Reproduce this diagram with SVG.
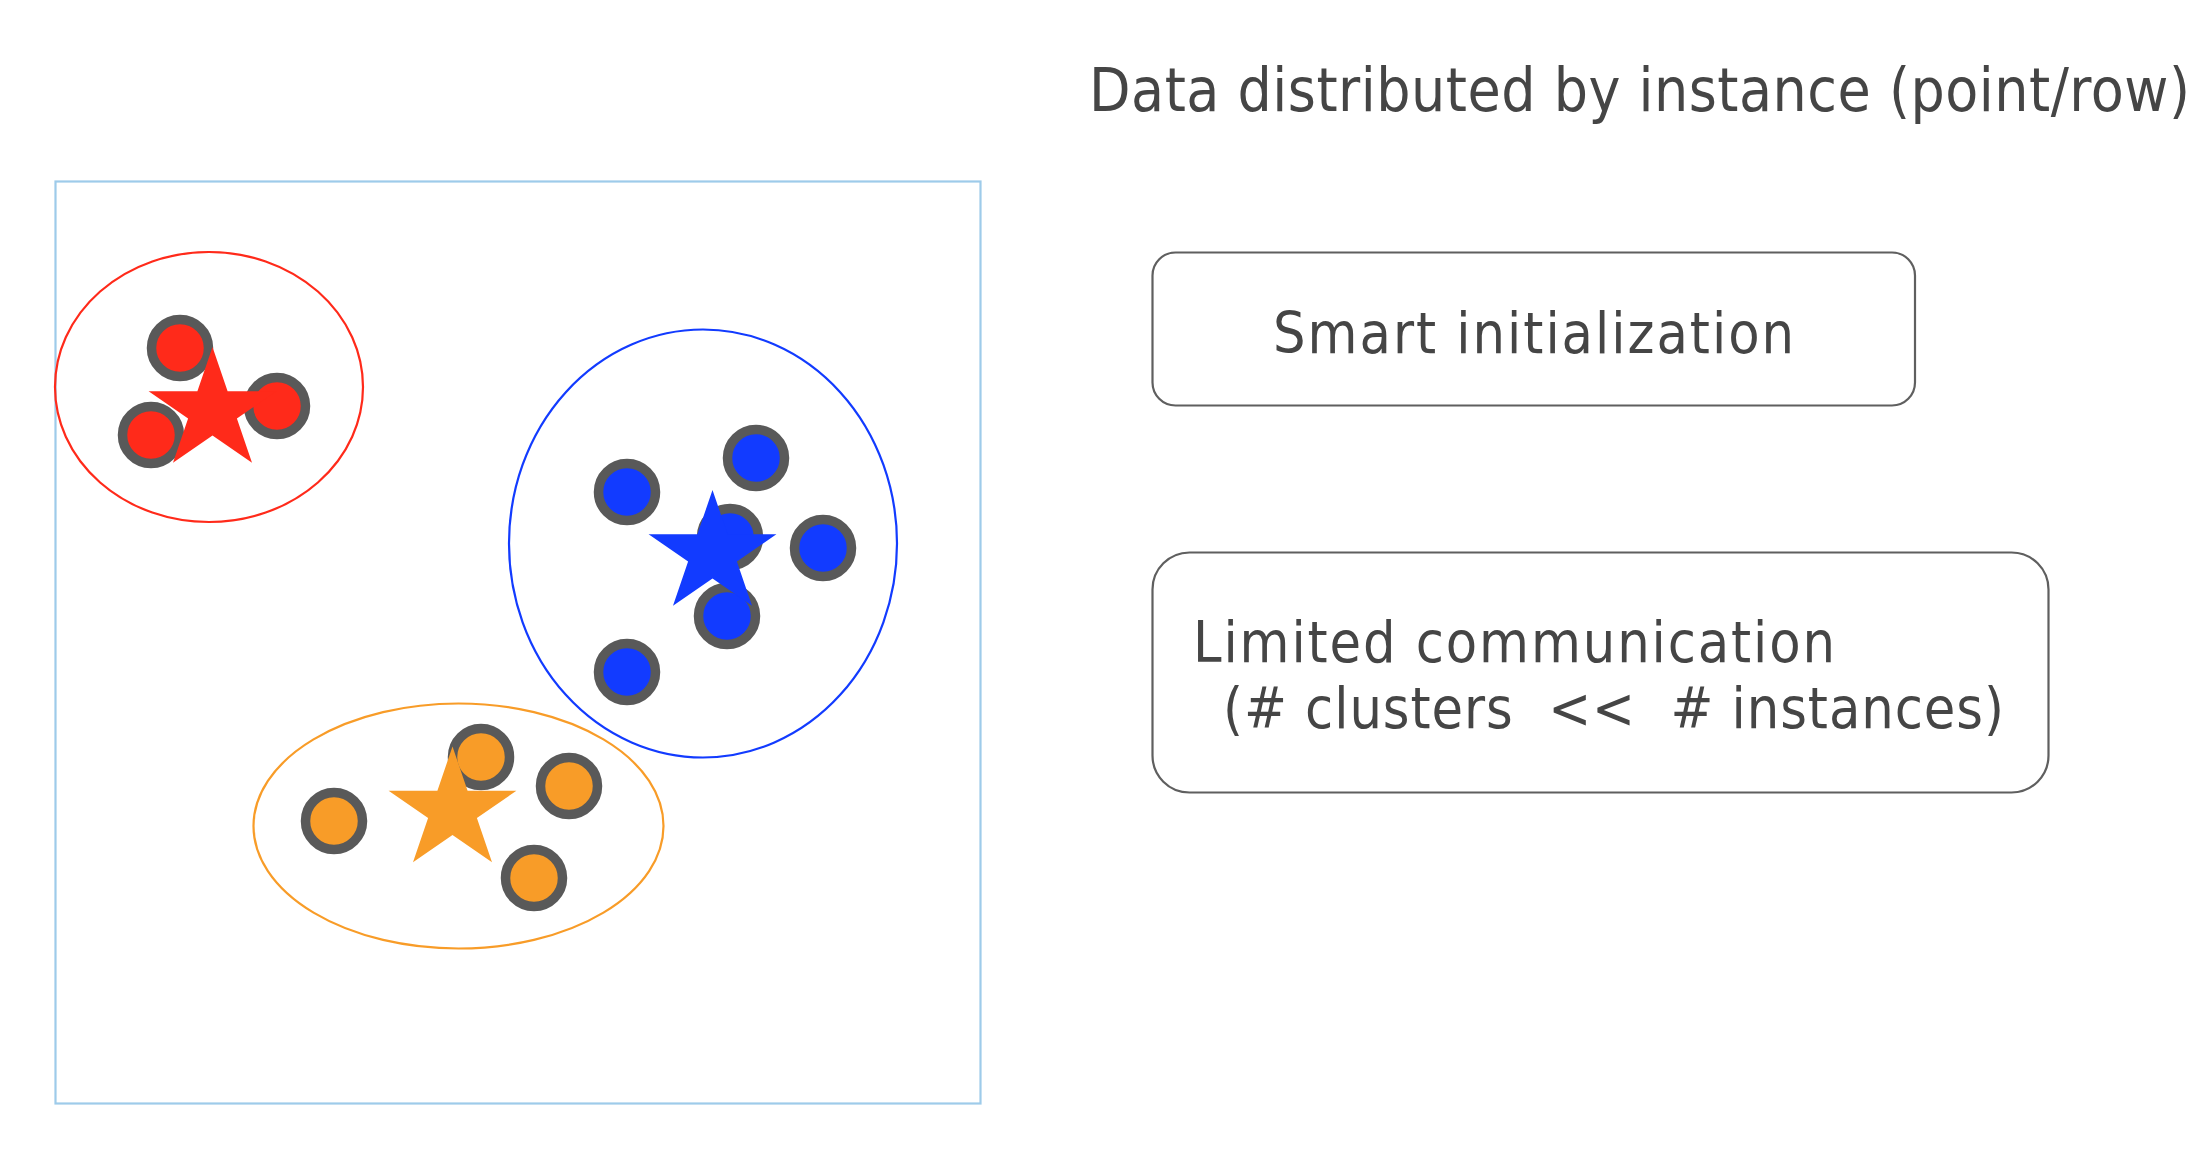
<svg xmlns="http://www.w3.org/2000/svg" width="2198" height="1162" viewBox="0 0 2198 1162">
<style>
.pt{stroke:#595959;stroke-width:9.5}
.red{fill:#ff2a1a}
.blue{fill:#123bff}
.orange{fill:#f89c28}
.ring{fill:none;stroke-width:2.2}
.lbl{font-family:"DejaVu Sans Condensed","DejaVu Sans","Liberation Sans",sans-serif;font-stretch:condensed;fill:#454545}
.card{fill:#fff;stroke:#5f5f5f;stroke-width:2.2}
</style>
<defs>
<path id="star" d="M0,-64 L15.1,-19.8 L63.9,-19.8 L24.4,7.6 L39.5,51.8 L0,24.5 L-39.5,51.8 L-24.4,7.6 L-63.9,-19.8 L-15.1,-19.8 Z"/>
</defs>
<rect width="2198" height="1162" fill="#fff"/>
<g id="data-frame">
<rect x="55.5" y="181.5" width="925" height="922" fill="none" stroke="#9ecbea" stroke-width="2.2"/>
</g>
<g id="cluster-red">
<ellipse class="ring" cx="209" cy="387" rx="154" ry="135" stroke="#ff2a1a"/>
<circle class="pt red" cx="180" cy="348" r="28.5"/>
<circle class="pt red" cx="277" cy="406" r="28.5"/>
<circle class="pt red" cx="151" cy="435" r="28.5"/>
<use href="#star" class="red" transform="translate(212.5,411)"/>
</g>
<g id="cluster-blue">
<ellipse class="ring" cx="703" cy="543.5" rx="194" ry="214" stroke="#123bff"/>
<circle class="pt blue" cx="627" cy="492" r="28.5"/>
<circle class="pt blue" cx="756" cy="458" r="28.5"/>
<circle class="pt blue" cx="730" cy="537" r="28.5"/>
<circle class="pt blue" cx="823" cy="548" r="28.5"/>
<circle class="pt blue" cx="727" cy="616" r="28.5"/>
<circle class="pt blue" cx="627" cy="672" r="28.5"/>
<use href="#star" class="blue" transform="translate(712.5,554)"/>
</g>
<g id="cluster-orange">
<ellipse class="ring" cx="458.5" cy="826" rx="205" ry="122.5" stroke="#f89c28"/>
<circle class="pt orange" cx="334" cy="821" r="28.5"/>
<circle class="pt orange" cx="481" cy="757" r="28.5"/>
<circle class="pt orange" cx="569" cy="786" r="28.5"/>
<circle class="pt orange" cx="534" cy="878" r="28.5"/>
<use href="#star" class="orange" transform="translate(452.5,810.5)"/>
</g>
<g id="title">
<text class="lbl" x="1089" y="111" font-size="60" textLength="1101" lengthAdjust="spacing">Data distributed by instance (point/row)</text>
</g>
<g id="smart-init">
<rect class="card" x="1152.5" y="252.5" width="762.5" height="153" rx="23"/>
<text class="lbl" x="1273" y="353" font-size="57" textLength="521" lengthAdjust="spacing">Smart initialization</text>
</g>
<g id="limited-comm">
<rect class="card" x="1152.5" y="552.5" width="896" height="240" rx="37"/>
<text class="lbl" x="1193" y="662" font-size="57" textLength="642" lengthAdjust="spacing">Limited communication</text>
<text class="lbl" x="1223" y="728" font-size="57" textLength="781" lengthAdjust="spacing" xml:space="preserve">(# clusters  &lt;&lt;  # instances)</text>
</g>
<g id="connectors"/>
</svg>
